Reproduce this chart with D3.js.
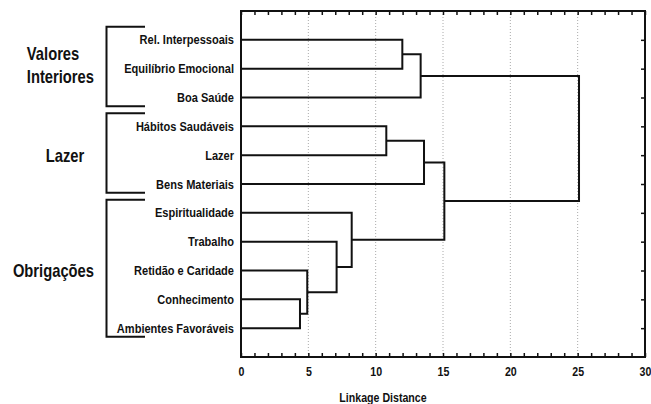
<!DOCTYPE html>
<html>
<head>
<meta charset="utf-8">
<script src="https://cdn.jsdelivr.net/npm/d3@7"></script>
<style>
  body { margin: 0; background: #fff; }
  text { font-family: "Liberation Sans", Arial, sans-serif; font-weight: bold; fill: #111; }
</style>
</head>
<body>
<svg id="chart" width="651" height="404"></svg>
<script>
'use strict'
// folhas do dendrograma, de cima para baixo
var leaves = ["Rel. Interpessoais", "Equilíbrio Emocional", "Boa Saúde",
    "Hábitos Saudáveis", "Lazer", "Bens Materiais",
    "Espiritualidade", "Trabalho", "Retidão e Caridade", "Conhecimento", "Ambientes Favoráveis"];
// junções: [filho a, filho b, distância]; índices >= 11 são clusters anteriores
var mergeA = [9, 8, 7, 6, 3, 0, 16, 15, 18, 17];
var mergeB = [10, 11, 12, 13, 4, 1, 2, 5, 14, 19];
var mergeDist = [4.38, 4.92, 7.10, 8.22, 10.79, 11.98, 13.34, 13.59, 15.10, 25.10];
// grupos à esquerda
var groupNames = [["Valores", "Interiores"], ["Lazer"], ["Obrigações"]];
var groupFirst = [0, 3, 6];
var groupLast = [2, 5, 10];
var xTicks = [0, 5, 10, 15, 20, 25, 30];

var svg = d3.select("#chart");
var pLeft = 241, pRight = 645, pTop = 11, pBottom = 357;

var x = d3.scaleLinear().domain([0, 30]).range([pLeft, pRight]);
var y = d3.scalePoint().domain(leaves).range([pTop, pBottom]).padding(1);
var step = y.step();

//texto estreito (não há Arial Narrow): comprime na horizontal
function narrowText(parent, tx, ty, str, size, k, anchor) {
    return parent.append("text")
        .attr("transform", "translate(" + tx + "," + ty + ") scale(" + k + ",1)")
        .attr("text-anchor", anchor)
        .style("font-size", size + "px")
        .text(str);
}

//grade pontilhada
svg.append("g").selectAll("line")
    .data(xTicks.slice(1, -1))
    .enter().append("line")
    .attr("x1", function (d) { return x(d); })
    .attr("x2", function (d) { return x(d); })
    .attr("y1", pTop).attr("y2", pBottom)
    .attr("stroke", "#aaa")
    .attr("stroke-width", 1)
    .attr("stroke-dasharray", "1,2");

//ticks menores para dentro
var minor = d3.range(0, 31);
function styleTicks(g) {
    g.select(".domain").remove();
    g.selectAll("line").attr("stroke", "#111").attr("stroke-width", 1.5);
}
svg.append("g").attr("transform", "translate(0," + pBottom + ")")
    .call(d3.axisBottom(x).tickValues(minor).tickSize(-4).tickFormat(""))
    .call(styleTicks);
svg.append("g").attr("transform", "translate(0," + pTop + ")")
    .call(d3.axisTop(x).tickValues(minor).tickSize(-4).tickFormat(""))
    .call(styleTicks);
svg.append("g").attr("transform", "translate(" + pRight + ",0)")
    .call(d3.axisRight(y).tickSize(-4).tickFormat(""))
    .call(styleTicks);

//rótulos do eixo x
svg.append("g").attr("transform", "translate(0," + pBottom + ")")
    .call(d3.axisBottom(x).tickValues(xTicks).tickSize(0).tickPadding(0))
    .call(function (g) {
        g.select(".domain").remove();
        g.selectAll("text")
            .attr("y", 0).attr("dy", 0)
            .attr("transform", "translate(0,19) scale(0.85,1)")
            .style("font-size", "12.5px")
            .style("font-family", "'Liberation Sans', Arial, sans-serif")
            .style("font-weight", "bold").attr("fill", "#111");
    });

narrowText(svg, 383, 402, "Linkage Distance", 12.5, 0.85, "middle");

//quadro
svg.append("rect")
    .attr("x", pLeft).attr("y", pTop)
    .attr("width", pRight - pLeft).attr("height", pBottom - pTop)
    .attr("fill", "none").attr("stroke", "#111").attr("stroke-width", 2);

//rótulos das folhas
var gLeaves = svg.append("g");
leaves.forEach(function (d) {
    narrowText(gLeaves, pLeft - 7, y(d) + 4.5, d, 13, 0.85, "end");
});

//montar o dendrograma
var nodes = leaves.map(function (d) { return { y: y(d), h: 0 }; });
var segs = [];
mergeDist.forEach(function (h, i) {
    var a = nodes[mergeA[i]], b = nodes[mergeB[i]];
    segs.push([[x(a.h), a.y], [x(h), a.y], [x(h), b.y], [x(b.h), b.y]]);
    nodes.push({ y: (a.y + b.y) / 2, h: h });
});
var line = d3.line();
svg.append("g").selectAll("path")
    .data(segs)
    .enter().append("path")
    .attr("d", function (d) { return line(d); })
    .attr("fill", "none")
    .attr("stroke", "#111")
    .attr("stroke-width", 2);

//colchetes dos grupos
var bx = 106.5, bx2 = 145, k = 0.82, fs = 18;
groupNames.forEach(function (names, i) {
    var y0 = y(leaves[groupFirst[i]]) - step * 0.45;
    var y1 = y(leaves[groupLast[i]]) + step * 0.3;
    svg.append("path")
        .attr("d", line([[bx2, y0], [bx, y0], [bx, y1], [bx2, y1]]))
        .attr("fill", "none").attr("stroke", "#111").attr("stroke-width", 2);
    var cy = (y(leaves[groupFirst[i]]) + y(leaves[groupLast[i]])) / 2;
    if (names.length > 1) cy -= 3.5;
    var texts = names.map(function (n, j) {
        return narrowText(svg, 0, cy + (j - (names.length - 1) / 2) * 23 + 6.5, n, fs, k, "start");
    });
    //bloco centrado em x=65, mas sem passar de x=94 à direita
    var w = d3.max(texts, function (t) { return t.node().getComputedTextLength() * k; });
    var x0 = Math.min(65 - w / 2, 94 - w);
    texts.forEach(function (t, j) {
        t.attr("transform", "translate(" + x0 + "," + (cy + (j - (names.length - 1) / 2) * 23 + 6.5) + ") scale(" + k + ",1)");
    });
});
</script>
</body>
</html>
